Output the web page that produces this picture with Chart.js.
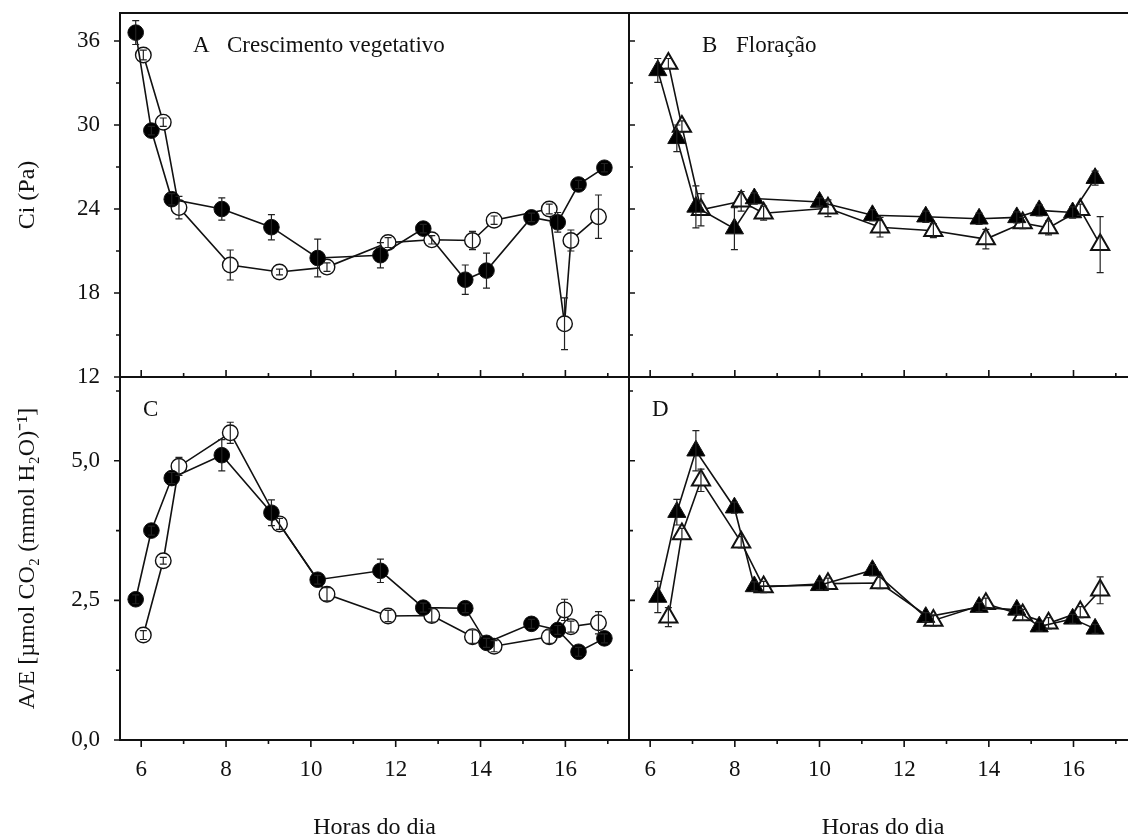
<!DOCTYPE html>
<html lang="pt">
<head>
<meta charset="utf-8">
<title>Ci e A/E ao longo do dia</title>
<script src="https://cdn.jsdelivr.net/npm/chart.js@4.4.1/dist/chart.umd.min.js"></script>
<style>
  html, body { margin: 0; padding: 0; background: #fff; }
  #figure { position: relative; width: 1128px; height: 837px; overflow: hidden; background: #fff; }
  #figure canvas { position: absolute; }
</style>
</head>
<body>
<div id="figure">
  <canvas id="panel-a" width="640" height="390" style="left:0px;top:0px"></canvas>
  <canvas id="panel-b" width="530" height="390" style="left:620px;top:0px"></canvas>
  <canvas id="panel-c" width="640" height="480" style="left:0px;top:370px"></canvas>
  <canvas id="panel-d" width="530" height="480" style="left:620px;top:370px"></canvas>
</div>
<script>
// tick labels
const hourTicks = [6, 8, 10, 12, 14, 16];
const ciTicks = [12, 18, 24, 30, 36];
const aeTicks = [0, 2.5, 5];

// crescimento vegetativo (circles): sampling hours
const hVegFilled = [5.87, 6.24, 6.72, 7.90, 9.07, 10.16, 11.64, 12.65, 13.64, 14.14, 15.20, 15.82, 16.31, 16.92];
const hVegOpen = [6.05, 6.52, 6.89, 8.10, 9.26, 10.38, 11.82, 12.85, 13.81, 14.32, 15.62, 15.98, 16.13, 16.78];

// floração (triangles): sampling hours
const hFlorFilled = [6.18, 6.63, 7.08, 7.99, 8.46, 10.0, 11.25, 12.51, 13.77, 14.66, 15.19, 15.98, 16.51];
const hFlorOpen = [6.43, 6.75, 7.20, 8.15, 8.68, 10.2, 11.43, 12.69, 13.93, 14.80, 15.41, 16.16, 16.63];

// A - Ci (Pa), vegetativo
const ciVegFilled = [36.6, 29.6, 24.7, 24.0, 22.7, 20.5, 20.7, 22.6, 18.95, 19.6, 23.4, 23.05, 25.75, 26.95];
const ciVegFilledErr = [0.85, 0.3, 0.4, 0.8, 0.9, 1.35, 0.9, 0.3, 1.05, 1.25, 0.3, 0.7, 0.3, 0.3];
const ciVegOpen = [35.0, 30.2, 24.1, 20.0, 19.5, 19.85, 21.6, 21.8, 21.75, 23.2, 24.0, 15.8, 21.75, 23.45];
const ciVegOpenErr = [0.35, 0.3, 0.8, 1.07, 0.2, 0.3, 0.35, 0.3, 0.65, 0.3, 0.35, 1.85, 0.75, 1.55];

// B - Ci (Pa), floração
const ciFlorFilled = [33.9, 29.05, 24.15, 22.6, 24.75, 24.5, 23.55, 23.45, 23.3, 23.4, 23.9, 23.75, 26.2];
const ciFlorFilledErr = [0.85, 0.95, 1.5, 1.5, 0.4, 0.3, 0.4, 0.4, 0.4, 0.4, 0.4, 0.4, 0.5];
const ciFlorOpen = [34.4, 29.9, 23.95, 24.55, 23.7, 24.05, 22.7, 22.45, 21.85, 23.0, 22.65, 23.95, 21.45];
const ciFlorOpenErr = [0.35, 0.4, 1.15, 0.7, 0.5, 0.6, 0.7, 0.5, 0.7, 0.4, 0.5, 0.4, 2.0];

// C - A/E, vegetativo
const aeVegFilled = [2.52, 3.75, 4.69, 5.10, 4.07, 2.87, 3.03, 2.37, 2.36, 1.74, 2.08, 1.97, 1.58, 1.82];
const aeVegFilledErr = [0.08, 0.08, 0.1, 0.28, 0.23, 0.08, 0.21, 0.08, 0.08, 0.08, 0.08, 0.08, 0.08, 0.08];
const aeVegOpen = [1.88, 3.21, 4.90, 5.50, 3.87, 2.61, 2.22, 2.23, 1.85, 1.68, 1.85, 2.33, 2.03, 2.10];
const aeVegOpenErr = [0.08, 0.06, 0.16, 0.19, 0.1, 0.12, 0.1, 0.12, 0.12, 0.1, 0.12, 0.19, 0.1, 0.2];

// D - A/E, floração
const aeFlorFilled = [2.56, 4.08, 5.18, 4.16, 2.75, 2.77, 3.04, 2.20, 2.38, 2.33, 2.03, 2.17, 1.99];
const aeFlorFilledErr = [0.28, 0.23, 0.36, 0.1, 0.08, 0.08, 0.1, 0.08, 0.08, 0.08, 0.08, 0.08, 0.08];
const aeFlorOpen = [2.20, 3.69, 4.65, 3.54, 2.74, 2.80, 2.81, 2.14, 2.44, 2.24, 2.09, 2.29, 2.68];
const aeFlorOpenErr = [0.17, 0.1, 0.2, 0.1, 0.1, 0.1, 0.1, 0.1, 0.1, 0.1, 0.1, 0.1, 0.24];

const ink = '#111';
const serif = '"Liberation Serif", "Times New Roman", serif';
const tickFont = { family: serif, size: 23 };
const titleFont = { family: serif, size: 24 };

Chart.defaults.font.family = serif;
Chart.defaults.color = ink;

// frame, inward/outward tick marks, error bars and panel letters
const framePlugin = {
  id: 'frame',
  afterDatasetsDraw(chart, args, opts) {
    const { ctx, chartArea: a, scales: { x, y } } = chart;
    ctx.save();

    // error bars on top of the markers
    ctx.strokeStyle = '#222';
    ctx.lineWidth = 1.2;
    chart.data.datasets.forEach(ds => {
      if (!ds.errs) return;
      ds.data.forEach((p, j) => {
        const e = ds.errs[j];
        const px = x.getPixelForValue(p.x);
        const top = y.getPixelForValue(p.y + e);
        const bot = y.getPixelForValue(p.y - e);
        ctx.beginPath();
        ctx.moveTo(px, top); ctx.lineTo(px, bot);
        ctx.moveTo(px - 3.5, top); ctx.lineTo(px + 3.5, top);
        ctx.moveTo(px - 3.5, bot); ctx.lineTo(px + 3.5, bot);
        ctx.stroke();
      });
    });

    ctx.strokeStyle = ink;
    ctx.lineWidth = 2;
    ctx.strokeRect(a.left, a.top, a.right - a.left, a.bottom - a.top);

    // x ticks: majors on even hours, minors on odd hours
    const xDir = opts.xOut ? 1 : -1;
    const xMarks = hourTicks.map(v => [v, 7]).concat(hourTicks.map(v => [v + 1, 4]));
    ctx.lineWidth = 1.6;
    ctx.beginPath();
    xMarks.forEach(([v, len]) => {
      const px = x.getPixelForValue(v);
      if (px < a.left || px > a.right) return;
      ctx.moveTo(px, a.bottom);
      ctx.lineTo(px, a.bottom + xDir * len);
    });
    // y ticks
    const yDir = opts.yOut ? -1 : 1;
    const major = opts.yMajor;
    const step = major[1] - major[0];
    const yMarks = major.map(v => [v, 6]).concat(major.map(v => [v + step / 2, 4]));
    yMarks.forEach(([v, len]) => {
      const py = y.getPixelForValue(v);
      if (py < a.top - 0.5 || py > a.bottom + 0.5) return;
      ctx.moveTo(a.left, py);
      ctx.lineTo(a.left + yDir * len, py);
    });
    ctx.stroke();

    // panel letter and caption
    ctx.fillStyle = ink;
    ctx.font = `23px ${serif}`;
    ctx.textBaseline = 'alphabetic';
    ctx.textAlign = 'left';
    ctx.fillText(opts.letter, a.left + opts.letterDx, a.top + 39);
    if (opts.caption) ctx.fillText(opts.caption, a.left + 107, a.top + 39);
    ctx.restore();
  }
};

const pts = (xs, ys) => xs.map((x, i) => ({ x, y: ys[i] }));

const series = (xs, ys, errs, shape, filled) => ({
  data: pts(xs, ys),
  errs,
  borderColor: ink,
  borderWidth: 1.6,
  fill: false,
  tension: 0,
  clip: false,
  pointStyle: shape,
  pointRadius: shape === 'triangle' ? 10.5 : 7.8,
  pointBackgroundColor: filled ? '#000' : '#fff',
  pointBorderColor: ink,
  pointBorderWidth: filled ? 1 : (shape === 'triangle' ? 2 : 1.4)
});

const commaFmt = v => v.toFixed(1).replace('.', ',');

// keep the plot areas where the figure has them: no label overhang padding
const noOverhang = s => {
  s.paddingTop = 0;
  s.paddingBottom = 0;
  s.paddingLeft = 0;
  s.paddingRight = 0;
};

const makePanel = (id, cfg) => new Chart(document.getElementById(id), {
  type: 'line',
  data: { datasets: cfg.datasets },
  options: {
    responsive: false,
    animation: false,
    events: [],
    layout: { autoPadding: false, padding: cfg.padding },
    plugins: {
      legend: { display: false },
      tooltip: { enabled: false },
      frame: cfg.frame
    },
    scales: {
      x: {
        type: 'linear',
        min: 5.5,
        max: 17.5,
        display: cfg.showX,
        grid: { display: false, drawTicks: false },
        border: { display: false },
        afterBuildTicks: s => { s.ticks = hourTicks.map(v => ({ value: v })); },
        ticks: { padding: 16, font: tickFont, color: ink, maxRotation: 0, autoSkip: false, callback: v => String(v) },
        title: { display: cfg.showX, text: 'Horas do dia', font: titleFont, color: ink, padding: { top: 0, bottom: 8 } },
        afterFit: s => {
          noOverhang(s);
          if (cfg.showX) s.height = 110;
        }
      },
      y: {
        type: 'linear',
        min: cfg.yMin,
        max: cfg.yMax,
        display: cfg.showY,
        grid: { display: false, drawTicks: false },
        border: { display: false },
        afterBuildTicks: s => { s.ticks = cfg.yTicks.map(v => ({ value: v })); },
        ticks: { padding: 20, font: tickFont, color: ink, autoSkip: false, callback: cfg.yFmt },
        title: { display: cfg.showY, text: cfg.yTitle, font: titleFont, color: ink, padding: { top: 13, bottom: 0 } },
        afterFit: s => {
          noOverhang(s);
          if (cfg.showY) s.width = 120;
        }
      }
    }
  },
  plugins: [framePlugin]
});

makePanel('panel-a', {
  datasets: [
    series(hVegFilled, ciVegFilled, ciVegFilledErr, 'circle', true),
    series(hVegOpen, ciVegOpen, ciVegOpenErr, 'circle', false)
  ],
  padding: { left: 0, top: 13, right: 11, bottom: 13 },
  showX: false, showY: true,
  yMin: 12, yMax: 38, yTicks: ciTicks, yFmt: v => String(v), yTitle: 'Ci (Pa)',
  frame: { xOut: false, yOut: true, yMajor: ciTicks, letter: 'A', letterDx: 73, caption: 'Crescimento vegetativo' }
});

makePanel('panel-b', {
  datasets: [
    series(hFlorFilled, ciFlorFilled, ciFlorFilledErr, 'triangle', true),
    series(hFlorOpen, ciFlorOpen, ciFlorOpenErr, 'triangle', false)
  ],
  padding: { left: 9, top: 13, right: 13, bottom: 13 },
  showX: false, showY: false,
  yMin: 12, yMax: 38, yTicks: ciTicks, yFmt: v => String(v), yTitle: '',
  frame: { xOut: false, yOut: false, yMajor: ciTicks, letter: 'B', letterDx: 73, caption: 'Floração' }
});

makePanel('panel-c', {
  datasets: [
    series(hVegFilled, aeVegFilled, aeVegFilledErr, 'circle', true),
    series(hVegOpen, aeVegOpen, aeVegOpenErr, 'circle', false)
  ],
  padding: { left: 0, top: 7, right: 11, bottom: 0 },
  showX: true, showY: true,
  yMin: 0, yMax: 6.5, yTicks: aeTicks, yFmt: commaFmt, yTitle: 'A/E [µmol CO₂ (mmol H₂O)⁻¹]',
  frame: { xOut: true, yOut: true, yMajor: aeTicks, letter: 'C', letterDx: 23, caption: '' }
});

makePanel('panel-d', {
  datasets: [
    series(hFlorFilled, aeFlorFilled, aeFlorFilledErr, 'triangle', true),
    series(hFlorOpen, aeFlorOpen, aeFlorOpenErr, 'triangle', false)
  ],
  padding: { left: 9, top: 7, right: 13, bottom: 0 },
  showX: true, showY: false,
  yMin: 0, yMax: 6.5, yTicks: aeTicks, yFmt: commaFmt, yTitle: '',
  frame: { xOut: true, yOut: false, yMajor: aeTicks, letter: 'D', letterDx: 23, caption: '' }
});
</script>
</body>
</html>
